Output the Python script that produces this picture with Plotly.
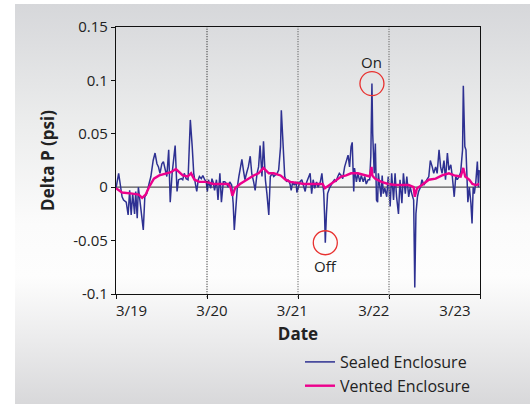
import base64
import plotly.graph_objects as go

# ---- data (hours since 3/19 00:00, delta P in psi) ----
hours_sealed = [
    0.0, 0.7, 1.6, 2.0, 2.7, 3.2, 3.6, 4.0, 4.4, 4.9, 5.2, 5.6, 5.9, 6.3, 6.8, 7.2, 7.6, 8.1, 8.7, 9.2,
    9.8, 10.3, 10.8, 11.2, 11.6, 12.1, 12.5, 13.0, 13.4, 13.9, 14.3, 14.8, 15.2, 15.6, 16.1, 16.5, 17.2, 17.6, 18.0, 18.5,
    19.0, 19.6, 20.1, 20.5, 21.0, 21.3, 21.7, 22.0, 22.5, 22.9, 23.4, 23.8, 24.1, 24.4, 24.7, 25.0, 25.3, 25.6, 26.0, 26.5,
    26.9, 27.4, 27.8, 28.3, 28.7, 29.2, 29.6, 30.0, 30.5, 30.9, 31.2, 31.6, 32.0, 32.4, 32.9, 33.2, 33.6, 34.0, 34.5, 34.9,
    35.4, 35.8, 36.3, 36.7, 37.2, 37.6, 38.0, 38.5, 38.9, 39.4, 39.8, 40.3, 40.7, 41.2, 41.6, 42.0, 42.5, 42.9, 43.4, 43.6,
    44.1, 44.5, 45.0, 45.4, 45.9, 46.2, 46.6, 47.0, 47.5, 47.7, 48.1, 48.5, 49.0, 49.4, 49.9, 50.3, 50.8, 51.2, 51.6, 52.0,
    52.4, 52.9, 53.3, 53.9, 54.3, 54.8, 55.0, 55.2, 55.5, 55.8, 56.3, 56.7, 57.2, 57.6, 58.0, 58.5, 58.9, 59.4, 59.8, 60.3,
    60.7, 61.2, 61.6, 62.0, 62.3, 62.7, 62.9, 63.4, 63.8, 64.3, 64.7, 65.2, 65.6, 66.0, 66.5, 66.9, 67.2, 67.5, 67.7, 68.1,
    68.4, 68.7, 69.0, 69.2, 69.6, 69.9, 70.2, 70.5, 70.9, 71.4, 71.8, 72.3, 72.7, 73.2, 73.6, 74.0, 74.5, 74.9, 75.4, 75.8,
    76.3, 76.7, 77.2, 77.6, 78.0, 78.5, 78.8, 79.1, 79.5, 79.8, 80.3, 80.7, 81.2, 81.6, 82.0, 82.5, 82.9, 83.4, 83.8, 84.3,
    84.7, 85.2, 85.6, 86.0, 86.5, 86.9, 87.4, 87.8, 88.3, 88.7, 89.2, 89.6, 90.0, 90.5, 90.9, 91.4, 91.6, 92.0, 92.3, 92.5,
    92.8, 93.2, 93.6, 93.9, 94.2, 94.5, 94.9, 95.3, 95.6, 95.8,
]
psi_sealed = [
    -0.001, 0.013, -0.009, -0.012, -0.014, -0.026, -0.003, -0.026, -0.006, -0.025, -0.004, -0.029, 0.000, -0.012, -0.028, -0.040, -0.009, -0.006, 0.003, 0.010,
    0.025, 0.032, 0.022, 0.019, 0.013, 0.022, 0.024, 0.016, 0.010, 0.035, -0.014, 0.013, 0.029, 0.039, -0.004, 0.007, 0.008, 0.007, 0.013, 0.008,
    0.007, 0.063, 0.038, 0.013, 0.002, -0.004, 0.007, 0.010, 0.008, 0.011, 0.007, 0.005, -0.004, 0.007, 0.002, -0.001, 0.008, 0.005, -0.003, 0.007,
    -0.012, 0.013, -0.014, 0.005, 0.005, 0.003, 0.000, 0.005, 0.002, -0.015, -0.040, -0.018, 0.000, 0.010, 0.019, 0.026, 0.016, 0.007, 0.014, 0.019,
    0.029, 0.013, 0.005, -0.003, 0.013, 0.019, 0.039, 0.010, 0.043, 0.007, -0.006, -0.026, 0.010, 0.013, 0.010, 0.011, 0.013, 0.016, 0.038, 0.072,
    0.035, 0.010, 0.005, 0.007, 0.003, -0.003, 0.005, 0.002, 0.005, -0.005, 0.000, 0.005, 0.007, 0.003, -0.004, 0.005, 0.010, 0.013, -0.006, 0.007,
    -0.001, 0.005, 0.000, 0.005, 0.013, -0.006, -0.025, -0.052, -0.025, -0.006, -0.001, 0.002, 0.005, 0.007, 0.005, 0.010, 0.013, 0.011, 0.008, 0.019,
    0.025, 0.030, 0.019, 0.038, 0.042, -0.004, 0.018, 0.005, 0.013, 0.005, 0.011, 0.005, 0.010, 0.003, 0.007, 0.007, 0.029, 0.097, 0.050, 0.013,
    0.041, -0.012, -0.014, 0.013, 0.000, -0.009, 0.011, -0.006, -0.001, -0.009, 0.010, -0.018, 0.013, -0.012, 0.013, -0.009, -0.025, 0.007, -0.015, 0.013,
    -0.006, 0.010, -0.009, 0.000, -0.006, -0.012, -0.094, -0.025, -0.009, -0.004, 0.000, 0.007, 0.002, 0.005, 0.007, 0.010, 0.025, 0.019, 0.013, 0.019,
    0.013, 0.035, 0.019, 0.013, 0.025, 0.007, 0.032, 0.016, 0.021, 0.010, -0.009, 0.010, 0.007, 0.010, 0.014, 0.035, 0.095, 0.038, 0.035, 0.016,
    -0.014, 0.000, -0.015, -0.034, 0.000, -0.006, 0.005, 0.024, 0.000, 0.016,
]
hours_vented = [
    0.0, 1.6, 4.3, 6.0, 6.9, 7.8, 8.7, 10.0, 11.4, 13.2, 14.5, 15.8, 16.7, 17.6, 18.9, 19.8, 20.7, 22.0, 23.8, 25.6,
    27.4, 29.6, 30.2, 30.7, 31.4, 32.7, 34.5, 36.3, 37.6, 38.9, 40.3, 41.6, 43.4, 44.7, 46.0, 47.8, 49.6, 51.4, 53.2, 54.5,
    55.1, 56.3, 57.6, 59.4, 60.7, 62.0, 63.8, 65.6, 66.9, 67.4, 67.6, 68.3, 70.0, 71.8, 73.6, 75.4, 77.2, 78.5, 78.8, 79.4,
    80.7, 82.5, 84.3, 86.0, 87.8, 89.2, 90.9, 91.6, 92.1, 93.2, 94.0, 94.9, 95.8,
]
psi_vented = [
    -0.001, -0.005, -0.006, -0.007, -0.010, -0.007, 0.000, 0.008, 0.011, 0.013, 0.014, 0.017, 0.014, 0.011, 0.010, 0.013, 0.007, 0.005, 0.005, 0.003,
    0.003, 0.003, 0.000, -0.008, -0.001, 0.003, 0.007, 0.011, 0.013, 0.018, 0.013, 0.013, 0.011, 0.007, 0.005, 0.004, 0.003, 0.003, 0.003, 0.003,
    -0.001, 0.002, 0.005, 0.010, 0.011, 0.013, 0.013, 0.011, 0.010, 0.019, 0.011, 0.008, 0.005, 0.003, 0.002, 0.002, 0.002, 0.000, -0.009, -0.001,
    0.002, 0.007, 0.008, 0.011, 0.013, 0.011, 0.010, 0.018, 0.010, 0.007, 0.003, 0.002, 0.003,
]
date_tick_hours = [4.1, 25.3, 46.5, 68.0, 89.4]
date_labels = ["3/19", "3/20", "3/21", "3/22", "3/23"]
day_mark_hours = [0, 24, 48, 72, 96]
y_ticks = [0.15, 0.1, 0.05, 0, -0.05, -0.1]
y_labels = ["0.15", "0.1", "0.05", "0", "-0.05", "-0.1"]
on_point = (67.5, 0.097)
off_point = (55.2, -0.052)

W, H = 530, 404
L, R, T, B = 116, 50, 27, 110
pw, ph = W - L - R, H - T - B

FONT = "Open Sans, Noto Sans, sans-serif"
BLUE = "#2e3192"
PINK = "#ec008c"

fig = go.Figure()
fig.add_trace(go.Scatter(x=hours_sealed, y=psi_sealed, mode="lines", name="Sealed Enclosure",
                         line=dict(color=BLUE, width=1.5)))
fig.add_trace(go.Scatter(x=hours_vented, y=psi_vented, mode="lines", name="Vented Enclosure",
                         line=dict(color=PINK, width=2.4)))

# zero line
fig.add_hline(y=0, line=dict(color="#555555", width=1.3), layer="below")
# day separators
styles = {24: ("#111111", 1), 48: ("#444444", 1), 72: ("#8a8a8a", 1.8)}
for d in day_mark_hours[1:-1]:
    c, w = styles[d]
    fig.add_shape(type="line", xref="x", yref="paper", x0=d, x1=d, y0=-0.012, y1=1,
                  line=dict(color=c, width=w, dash="1px,1.5px"), layer="above")

# circles & labels
for (px, py), txt, shift in [(on_point, "On", 22), (off_point, "Off", -23)]:
    fig.add_shape(type="circle", xref="x", yref="y", xsizemode="pixel", ysizemode="pixel",
                  xanchor=px, yanchor=py, x0=-12, x1=12, y0=-12, y1=12,
                  line=dict(color="#e8312f", width=1.3))
    fig.add_annotation(x=px, y=py, text=txt, showarrow=False, yshift=shift,
                       font=dict(family=FONT, size=15, color="#222222"))

# gradient background
svg = ('<svg xmlns="http://www.w3.org/2000/svg" width="100" height="100" preserveAspectRatio="none">'
       '<defs><linearGradient id="g" x1="0" y1="0" x2="0" y2="1">'
       '<stop offset="0" stop-color="#d6d7da"/>'
       '<stop offset="0.3" stop-color="#eceded"/>'
       '<stop offset="0.55" stop-color="#fbfbfb"/>'
       '<stop offset="0.68" stop-color="#fdfdfd"/>'
       '<stop offset="0.85" stop-color="#eaeaeb"/>'
       '<stop offset="1" stop-color="#d8d8da"/>'
       '</linearGradient></defs><rect width="100" height="100" fill="url(#g)"/></svg>')
src = "data:image/svg+xml;base64," + base64.b64encode(svg.encode()).decode()
fig.add_layout_image(source=src, xref="paper", yref="paper",
                     x=(15 - L) / pw, y=1 + (T - 4) / ph, sizex=(W - 15) / pw, sizey=(H - 4) / ph,
                     xanchor="left", yanchor="top", sizing="stretch", layer="below")

fig.update_layout(
    width=W, height=H,
    margin=dict(l=L, r=R, t=T, b=B, autoexpand=False),
    paper_bgcolor="white", plot_bgcolor="rgba(0,0,0,0)",
    font=dict(family=FONT, size=15, color="#222222"),
    showlegend=True,
    legend=dict(xref="container", yref="container", x=300 / W, y=1 - 345 / H,
                xanchor="left", yanchor="top", bgcolor="rgba(0,0,0,0)",
                font=dict(family=FONT, size=16, color="#222222"), tracegroupgap=0),
    hovermode=False,
)
fig.update_xaxes(range=[0, 96], tickvals=date_tick_hours, ticktext=date_labels, ticks="",
                 showgrid=False, zeroline=False, showline=True, linecolor="#111111", linewidth=1.2,
                 mirror=True, ticklabelstandoff=3, automargin=False,
                 minor=dict(tickvals=day_mark_hours, ticks="outside", ticklen=4, tickcolor="#111111", showgrid=False),
                 title=dict(text="<b>Date</b>", font=dict(family=FONT, size=17, color="#222222"), standoff=8))
fig.update_yaxes(range=[-0.1, 0.15], tickvals=y_ticks, ticktext=y_labels, ticks="outside", ticklen=4,
                 tickcolor="#111111", showgrid=False, zeroline=False, showline=True, linecolor="#111111",
                 linewidth=1.2, mirror=True, automargin=False,
                 title=dict(text="<b>Delta P (psi)</b>", font=dict(family=FONT, size=17, color="#222222"), standoff=14))

fig.write_html("out.html", config={"displayModeBar": False, "staticPlot": True},
               post_script="document.body.style.margin='0';")
